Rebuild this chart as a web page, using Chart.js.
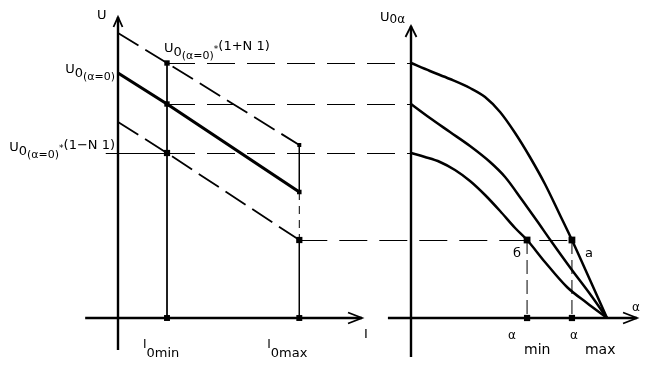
<!DOCTYPE html>
<html><head><meta charset="utf-8">
<script src="https://cdn.jsdelivr.net/npm/chart.js@4/dist/chart.umd.min.js"></script>
<style>html,body{margin:0;padding:0;background:#fff}#wrap{width:650px;height:370px;position:relative}</style>
</head><body><div id="wrap"><canvas id="c"></canvas></div>
<script>
// ---------------- data ----------------
// left panel: U versus I
const I_POINTS  = [0, 1.0, 3.7];          // I = 0, I0min, I0max
const U_UPPER   = [2.85, 2.55, 1.73];     // U0(α=0)*(1+N1) line (dashed)
const U_NOMINAL = [2.45, 2.14, 1.26];     // U0(α=0) line (solid)
const U_LOWER   = [1.96, 1.65, 0.78];     // U0(α=0)*(1−N1) line (dashed)
const I0_MIN = 1.0, I0_MAX = 3.7;

// right panel: U0α versus α
const ALPHA_UPPER = [0, 8.7, 17.9, 27.1, 34.0, 40.9, 47.8, 54.6, 61.5, 68.4, 73.9, 82.2, 90];
const U0A_UPPER   = [2.55, 2.47, 2.39, 2.30, 2.21, 2.06, 1.85, 1.61, 1.34, 1.03, 0.78, 0.38, 0];
const ALPHA_MID   = [0, 8.7, 17.9, 27.1, 36.3, 43.2, 51.0, 57.9, 64.3, 73.9, 82.2, 90];
const U0A_MID     = [2.14, 2.00, 1.86, 1.72, 1.56, 1.41, 1.18, 0.97, 0.77, 0.48, 0.24, 0];
const ALPHA_LOWER = [0, 6.4, 13.3, 20.2, 27.1, 34.0, 40.9, 47.8, 53.3, 61.5, 71.6, 80.8, 90];
const U0A_LOWER   = [1.65, 1.61, 1.56, 1.48, 1.37, 1.23, 1.07, 0.90, 0.78, 0.56, 0.31, 0.15, 0];
const ALPHA_MIN = 53.3, ALPHA_MAX = 73.9;
const U_WORK = 0.78;                      // level of points a and б

// text
const LBL_U = 'U', LBL_I = 'I', LBL_ALPHA = 'α';
const LBL_B = 'б', LBL_A = 'a';

// ---------------- layout (pixel mapping of hidden scales) ----------------
const W = 650, H = 370;
const I_ORIGIN_PX = 118, PX_PER_I = 49;
const A_ORIGIN_PX = 411, PX_PER_A = 196 / 90;
const U_ORIGIN_PX = 318, PX_PER_U = 100;
// axis extents (data units)
const U_AX = [-0.32, 3.01], I_AX = [-0.67, 4.98];
const U0A_AX = [-0.39, 2.92], A_AX = [-10.6, 103.8];

const pts = (xs, ys) => xs.map((x, i) => ({x, y: ys[i]}));
const FONT = '"DejaVu Sans", sans-serif';

function lineDS(data, axis, opts) {
  return Object.assign({type: 'line', data, xAxisID: axis, yAxisID: 'y', borderColor: '#000',
    borderWidth: 2, pointRadius: 0, fill: false, tension: 0, borderCapStyle: 'butt'}, opts || {});
}
function markDS(data, axis, radii) {
  return {type: 'scatter', data, xAxisID: axis, yAxisID: 'y', pointStyle: 'rect',
    pointRadius: radii, backgroundColor: '#000', borderColor: '#000', borderWidth: 0, showLine: false};
}

const datasets = [
  // axes
  lineDS([{x: 0, y: U_AX[0]}, {x: 0, y: U_AX[1]}], 'xI', {borderWidth: 2.4}),
  lineDS([{x: I_AX[0], y: 0}, {x: I_AX[1], y: 0}], 'xI', {borderWidth: 2.4}),
  lineDS([{x: 0, y: U0A_AX[0]}, {x: 0, y: U0A_AX[1]}], 'xA', {borderWidth: 2.4}),
  lineDS([{x: A_AX[0], y: 0}, {x: A_AX[1], y: 0}], 'xA', {borderWidth: 2.4}),
  // left verticals
  lineDS([{x: I0_MIN, y: U_UPPER[1]}, {x: I0_MIN, y: 0}], 'xI', {borderWidth: 1}),
  lineDS([{x: I0_MAX, y: U_UPPER[2]}, {x: I0_MAX, y: U_NOMINAL[2]}], 'xI', {borderWidth: 1}),
  lineDS([{x: I0_MAX, y: U_NOMINAL[2]}, {x: I0_MAX, y: U_LOWER[2]}], 'xI', {borderWidth: 1, borderDash: [8, 6]}),
  lineDS([{x: I0_MAX, y: U_LOWER[2]}, {x: I0_MAX, y: 0}], 'xI', {borderWidth: 1}),
  // left U(I) lines
  lineDS(pts(I_POINTS, U_UPPER), 'xI', {borderWidth: 1.8, borderDash: [24, 8]}),
  lineDS(pts(I_POINTS, U_NOMINAL), 'xI', {borderWidth: 3.2}),
  lineDS(pts(I_POINTS, U_LOWER), 'xI', {borderWidth: 1.8, borderDash: [24, 8]}),
  // right curves
  lineDS(pts(ALPHA_UPPER, U0A_UPPER), 'xA', {borderWidth: 2.5, cubicInterpolationMode: 'monotone'}),
  lineDS(pts(ALPHA_MID, U0A_MID), 'xA', {borderWidth: 2.5, cubicInterpolationMode: 'monotone'}),
  lineDS(pts(ALPHA_LOWER, U0A_LOWER), 'xA', {borderWidth: 2.5, cubicInterpolationMode: 'monotone'}),
  // right dashed verticals
  lineDS([{x: ALPHA_MIN, y: U_WORK}, {x: ALPHA_MIN, y: 0}], 'xA', {borderWidth: 1, borderDash: [14, 6]}),
  lineDS([{x: ALPHA_MAX, y: U_WORK}, {x: ALPHA_MAX, y: 0}], 'xA', {borderWidth: 1, borderDash: [14, 6]}),
  // markers
  markDS([{x: I0_MIN, y: U_UPPER[1]}, {x: I0_MIN, y: U_NOMINAL[1]}, {x: I0_MIN, y: U_LOWER[1]},
          {x: I0_MAX, y: U_UPPER[2]}, {x: I0_MAX, y: U_NOMINAL[2]}, {x: I0_MAX, y: U_LOWER[2]},
          {x: I0_MIN, y: 0}, {x: I0_MAX, y: 0}], 'xI', [3.8, 3.8, 4.4, 2.8, 3.2, 4.4, 4.2, 4.2]),
  markDS([{x: ALPHA_MIN, y: U_WORK}, {x: ALPHA_MAX, y: U_WORK}, {x: ALPHA_MIN, y: 0}, {x: ALPHA_MAX, y: 0}],
         'xA', [4.8, 4.8, 4.4, 4.4])
];

function drawRuns(ctx, x, y, runs, align) {
  let w = 0;
  runs.forEach(r => { ctx.font = r.f + 'px ' + FONT; w += ctx.measureText(r.t).width; });
  let cx = align === 'right' ? x - w : x;
  runs.forEach(r => {
    ctx.font = r.f + 'px ' + FONT;
    ctx.fillText(r.t, cx, y + (r.dy || 0));
    cx += ctx.measureText(r.t).width;
  });
}
function arrow(ctx, tx, ty, dx, dy, L, Wd) {
  ctx.beginPath();
  ctx.moveTo(tx - L * dx + Wd * dy, ty - L * dy - Wd * dx);
  ctx.lineTo(tx, ty);
  ctx.lineTo(tx - L * dx - Wd * dy, ty - L * dy + Wd * dx);
  ctx.stroke();
}

const overlay = {
  id: 'overlay',
  beforeDatasetsDraw(chart) {
    const {ctx} = chart, xI = chart.scales.xI, xA = chart.scales.xA, y = chart.scales.y;
    ctx.save();
    ctx.strokeStyle = '#000'; ctx.lineWidth = 1.2;
    const hline = (x1, x2, yy, dash) => {
      ctx.setLineDash(dash); ctx.beginPath();
      ctx.moveTo(x1, Math.round(yy) + 0.5); ctx.lineTo(x2, Math.round(yy) + 0.5); ctx.stroke();
    };
    const D = [28, 12];
    hline(xI.getPixelForValue(I0_MIN), xA.getPixelForValue(0), y.getPixelForValue(U_UPPER[1]), D);
    hline(xI.getPixelForValue(I0_MIN), xA.getPixelForValue(0), y.getPixelForValue(U_NOMINAL[1]), D);
    hline(xI.getPixelForValue(-0.25), xI.getPixelForValue(I0_MIN), y.getPixelForValue(U_LOWER[1]), []);
    hline(xI.getPixelForValue(I0_MIN), xA.getPixelForValue(0), y.getPixelForValue(U_LOWER[1]), D);
    hline(xI.getPixelForValue(I0_MAX), xA.getPixelForValue(ALPHA_MAX), y.getPixelForValue(U_WORK), D);
    ctx.restore();
  },
  afterDatasetsDraw(chart) {
    const {ctx} = chart, xI = chart.scales.xI, xA = chart.scales.xA, y = chart.scales.y;
    ctx.save();
    ctx.strokeStyle = '#000'; ctx.fillStyle = '#000'; ctx.lineWidth = 1.8; ctx.setLineDash([]);
    arrow(ctx, xI.getPixelForValue(0), y.getPixelForValue(U_AX[1]), 0, -1, 10, 4.5);
    arrow(ctx, xI.getPixelForValue(I_AX[1]), y.getPixelForValue(0), 1, 0, 14, 5.5);
    arrow(ctx, xA.getPixelForValue(0), y.getPixelForValue(U0A_AX[1]), 0, -1, 11, 5.5);
    arrow(ctx, xA.getPixelForValue(A_AX[1]), y.getPixelForValue(0), 1, 0, 14, 5.5);

    ctx.textBaseline = 'alphabetic';
    const x0 = xI.getPixelForValue(0), xa0 = xA.getPixelForValue(0), y0 = y.getPixelForValue(0);
    drawRuns(ctx, x0 - 21, y.getPixelForValue(U_AX[1]) + 2, [{t: LBL_U, f: 13}]);
    drawRuns(ctx, xI.getPixelForValue(I_AX[1]) + 2, y0 + 20, [{t: LBL_I, f: 13}]);
    drawRuns(ctx, xa0 - 31, y.getPixelForValue(U0A_AX[1]) - 5, [{t: 'U', f: 13}, {t: '0α', f: 12, dy: 2}]);
    drawRuns(ctx, xA.getPixelForValue(A_AX[1]) - 5, y0 - 7, [{t: LBL_ALPHA, f: 12}]);
    drawRuns(ctx, x0 - 3, y.getPixelForValue(U_NOMINAL[0]),
      [{t: 'U', f: 13}, {t: '0', f: 13, dy: 4}, {t: '(α=0)', f: 11, dy: 7}], 'right');
    drawRuns(ctx, xI.getPixelForValue(I0_MIN) - 3, y.getPixelForValue(U_UPPER[1]) - 11,
      [{t: 'U', f: 13}, {t: '0', f: 13, dy: 4}, {t: '(α=0)', f: 11, dy: 7}, {t: '*', f: 9, dy: 0}, {t: '(1+N 1)', f: 13, dy: -2}]);
    drawRuns(ctx, x0 - 3, y.getPixelForValue(U_LOWER[1]) - 2,
      [{t: 'U', f: 13}, {t: '0', f: 13, dy: 4}, {t: '(α=0)', f: 11, dy: 7}, {t: '*', f: 9, dy: 0}, {t: '(1−N 1)', f: 13, dy: -2}], 'right');
    drawRuns(ctx, xI.getPixelForValue(I0_MIN) - 24, y0 + 30, [{t: 'I', f: 12}, {t: '0min', f: 13, dy: 9}]);
    drawRuns(ctx, xI.getPixelForValue(I0_MAX) - 32, y0 + 30, [{t: 'I', f: 12}, {t: '0max', f: 13, dy: 9}]);
    const xm = xA.getPixelForValue(ALPHA_MIN), xM = xA.getPixelForValue(ALPHA_MAX);
    drawRuns(ctx, xm - 19, y0 + 21, [{t: 'α', f: 12}]);
    drawRuns(ctx, xm - 3, y0 + 36, [{t: 'min', f: 14}]);
    drawRuns(ctx, xM - 2, y0 + 21, [{t: 'α', f: 12}]);
    drawRuns(ctx, xM + 13, y0 + 36, [{t: 'max', f: 14}]);
    const yw = y.getPixelForValue(U_WORK);
    drawRuns(ctx, xm - 14, yw + 17, [{t: LBL_B, f: 13}]);
    drawRuns(ctx, xM + 13, yw + 17, [{t: LBL_A, f: 13}]);
    ctx.restore();
  }
};

new Chart(document.getElementById('c'), {
  type: 'scatter',
  data: {datasets},
  options: {
    responsive: true, maintainAspectRatio: false, animation: false,
    layout: {padding: 0, autoPadding: false},
    plugins: {legend: {display: false}, tooltip: {enabled: false}},
    events: [],
    scales: {
      xI: {type: 'linear', display: false, min: -I_ORIGIN_PX / PX_PER_I, max: (W - I_ORIGIN_PX) / PX_PER_I},
      xA: {type: 'linear', display: false, min: -A_ORIGIN_PX / PX_PER_A, max: (W - A_ORIGIN_PX) / PX_PER_A},
      y:  {type: 'linear', display: false, min: (U_ORIGIN_PX - H) / PX_PER_U, max: U_ORIGIN_PX / PX_PER_U}
    }
  },
  plugins: [overlay]
});
</script>
</body></html>
